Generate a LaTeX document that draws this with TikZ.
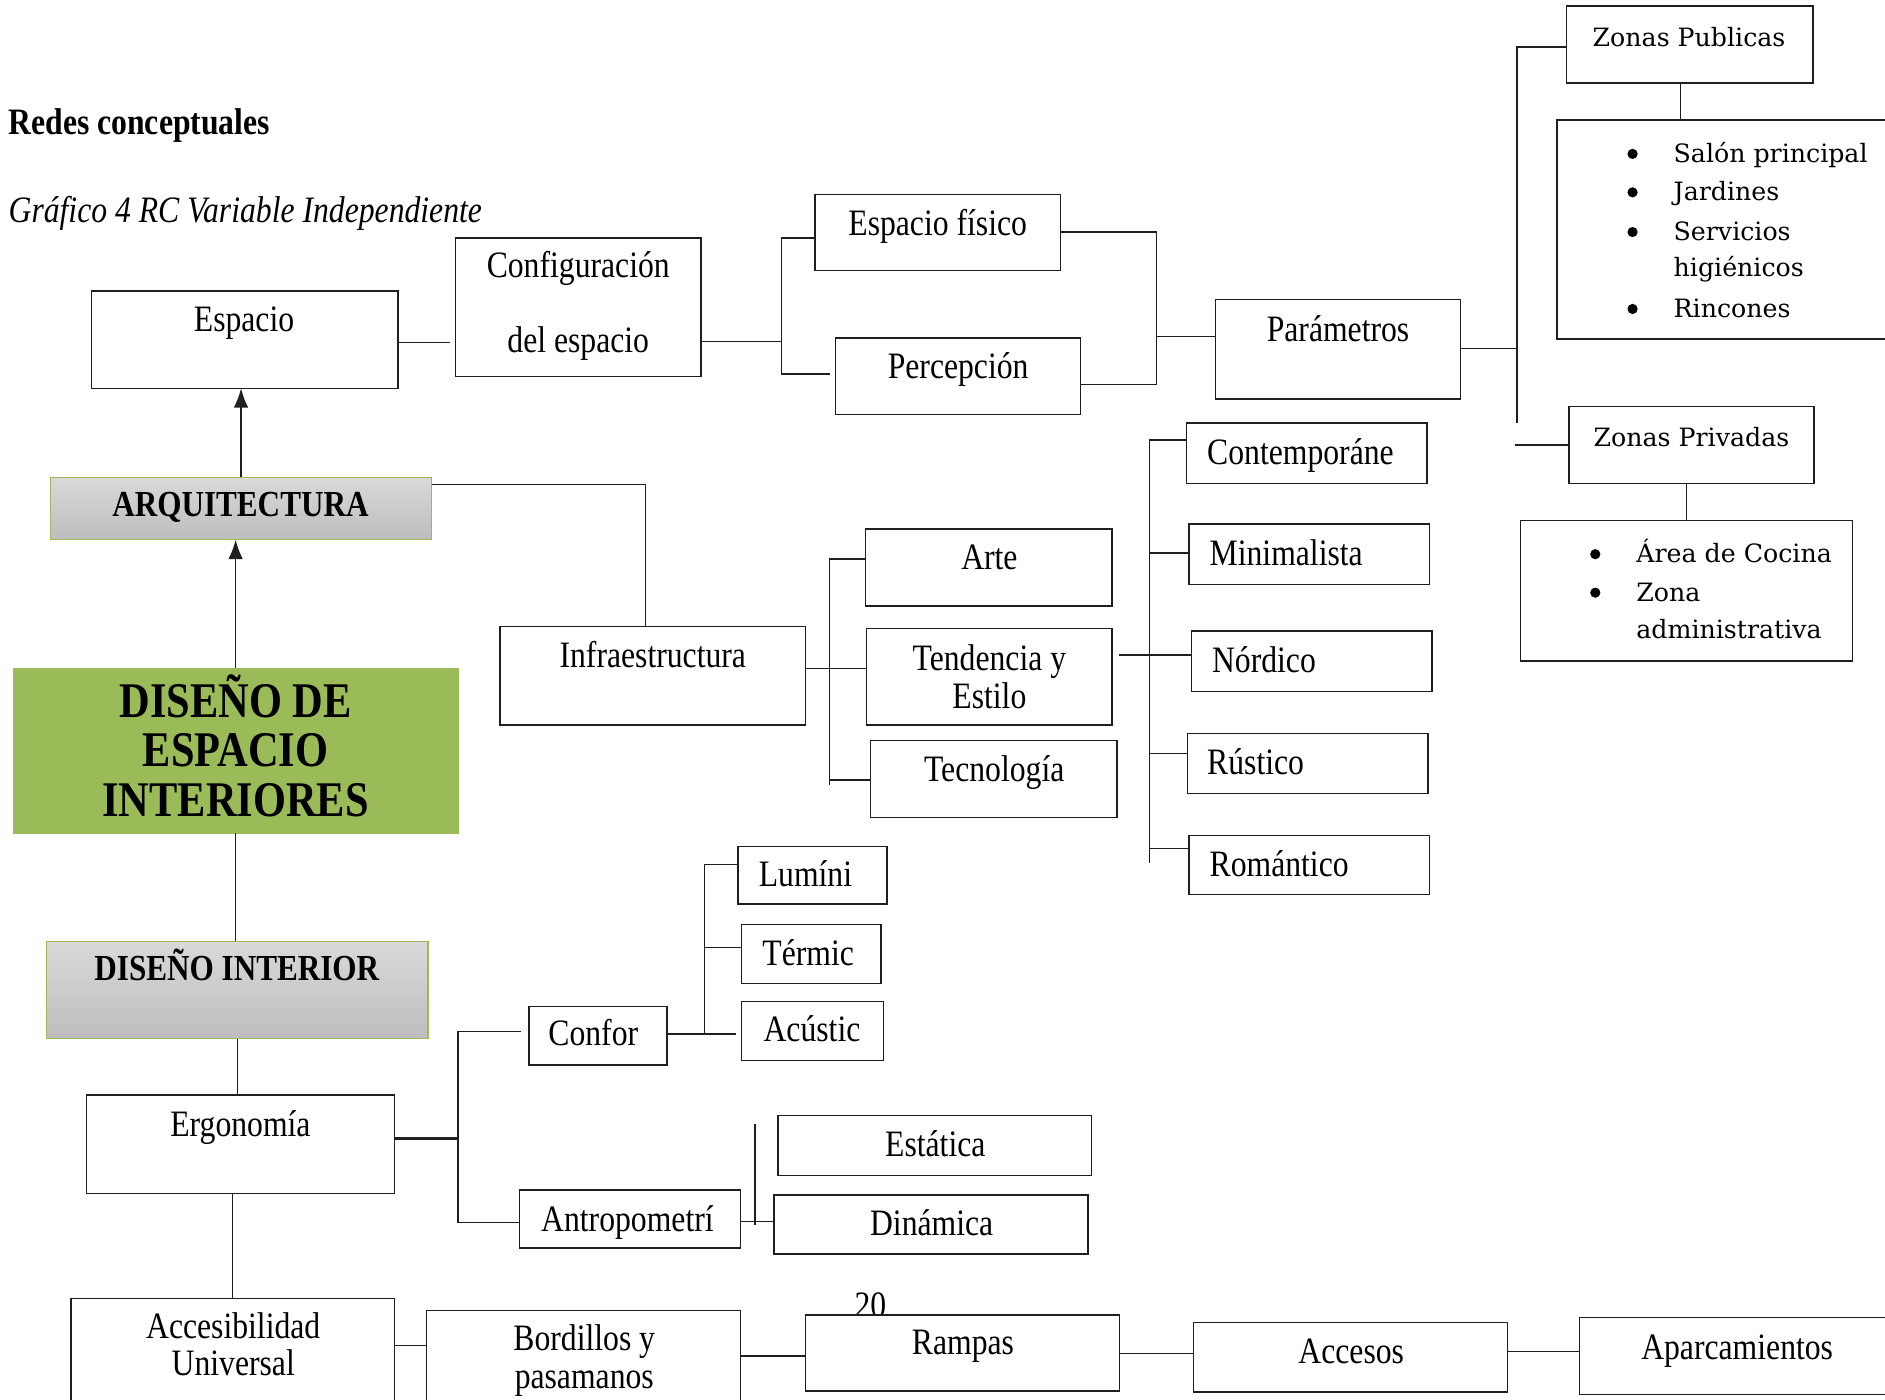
\documentclass[tikz,border=0pt]{standalone}
\usepackage{fontspec}
\setmainfont{Liberation Serif}[FakeStretch=0.85]
\newfontfamily\zfont{DejaVu Serif}
\usetikzlibrary{arrows.meta}

\definecolor{linec}{HTML}{1F1F1F}
\definecolor{leaf}{HTML}{9BBB59}
\definecolor{greyhi}{HTML}{D9D9D9}
\definecolor{greylo}{HTML}{BDBDBD}

% box from corner (x1,y1) to corner (x2,y2), y measured downwards
\newcommand\mkbox[6][box]{%
  \node[#1, minimum width={(#5-#3)*1pt}, minimum height={(#6-#4)*1pt}]
    (#2) at ({(#3+#5)/2},{(#4+#6)/2}) {};}

\tikzset{
  box/.style={draw=linec, line width=1.2pt, fill=white, inner sep=0pt, outer sep=0pt, rectangle},
  graybox/.style={draw=leaf, line width=1pt, top color=greyhi, bottom color=greylo, inner sep=0pt, outer sep=0pt, rectangle},
  greenbox/.style={draw=leaf, fill=leaf, line width=1pt, inner sep=0pt, outer sep=0pt, rectangle},
  wire/.style={draw=linec, line width=1.2pt},
  arrowup/.style={-{Latex[length=16pt,width=12pt]}},
  lbl/.style={inner sep=0pt, anchor=base, font=\fontsize{31}{36}\selectfont},
  lblw/.style={lbl, anchor=base west},
  zlbl/.style={inner sep=0pt, anchor=base, font=\zfont\fontsize{21}{26}\selectfont},
  zlblw/.style={zlbl, anchor=base west},
  bullet/.style={circle, fill=black, inner sep=0pt, minimum size=8.5pt},
  head/.style={inner sep=0pt, anchor=base, font=\fontsize{30.5}{36}\selectfont\bfseries},
  bighead/.style={inner sep=0pt, anchor=base, font=\fontsize{41.5}{44}\selectfont\bfseries},
}

\begin{document}
\begin{tikzpicture}[x=1pt, y=-1pt]
\useasboundingbox (0,0) rectangle (1568,1164);
\clip (0,0) rectangle (1568,1164);
\fill[white] (0,0) rectangle (1568,1164);

% headings
\node[lblw, font=\fontsize{31}{36}\selectfont\bfseries] (title) at (7,112) {Redes conceptuales};
\node[lblw, font=\fontsize{31}{36}\selectfont\itshape] (subtitle) at (7,185) {Gráfico 4 RC Variable Independiente};

% page number, partly covered by the Rampas box
\node[lbl] (pagenum) at (724,1096) {20};

% boxes
\mkbox{esp}{76}{242}{331}{323}
\mkbox{conf}{379}{198}{583}{313}
\mkbox{ef}{678}{162}{882}{225}
\mkbox{perc}{695}{281}{899}{345}
\mkbox{param}{1011}{249}{1215}{332}
\mkbox{zpub}{1303}{5}{1508}{69}
\mkbox{salon}{1295}{100}{1600}{282}
\mkbox{zpriv}{1305}{338}{1509}{402}
\mkbox{area}{1265}{433}{1541}{550}
\mkbox[graybox]{arq}{42}{397}{359}{449}
\mkbox[greenbox]{dei}{11}{556}{381}{693}
\mkbox[graybox]{di}{39}{783}{356}{864}
\mkbox{infra}{416}{521}{670}{603}
\mkbox{arte}{720}{440}{925}{504}
\mkbox{tend}{721}{523}{925}{603}
\mkbox{tecno}{724}{616}{929}{680}
\mkbox{cont}{987}{352}{1187}{402}
\mkbox{mini}{989}{436}{1189}{486}
\mkbox{nord}{991}{525}{1191}{575}
\mkbox{rust}{988}{610}{1188}{660}
\mkbox{rom}{989}{695}{1189}{744}
\mkbox{lum}{614}{704}{738}{752}
\mkbox{term}{617}{769}{733}{818}
\mkbox{acus}{617}{833}{735}{882}
\mkbox{confor}{440}{837}{555}{886}
\mkbox{ergo}{72}{911}{328}{993}
\mkbox{esta}{647}{928}{908}{978}
\mkbox{antro}{432}{990}{616}{1038}
\mkbox{din}{644}{994}{905}{1043}
\mkbox{acc}{59}{1080}{328}{1200}
\mkbox{bord}{355}{1090}{616}{1200}
\mkbox{ramp}{670}{1094}{931}{1157}
\mkbox{acce}{993}{1100}{1254}{1158}
\mkbox{aparc}{1314}{1096}{1600}{1160}

% labels
\node[lbl] (esp-t) at (203,276) {Espacio};
\node[lbl] (conf-t1) at (481,231) {Configuración};
\node[lbl] (conf-t2) at (481,293) {del espacio};
\node[lbl] (ef-t) at (780,196) {Espacio físico};
\node[lbl] (perc-t) at (797,315) {Percepción};
\node[lbl] (param-t) at (1113,284) {Parámetros};

\node[zlbl] (zpub-t) at (1405,39) {Zonas Publicas};
\node[zlbl] (zpriv-t) at (1407,371) {Zonas Privadas};
\foreach \yy/\tt [count=\i] in {135/Salón principal, 167/Jardines, 200/Servicios, 230/higiénicos, 264/Rincones}{
  \node[zlblw] (salon-t\i) at (1392,\yy) {\tt};
}
\foreach \yy [count=\i] in {128,160,193,257}{
  \node[bullet] (salon-b\i) at (1358,\yy) {};
}
\node[zlblw] (area-t1) at (1361,468) {Área de Cocina};
\node[zlblw] (area-t2) at (1361,500) {Zona};
\node[zlblw] (area-t3) at (1361,531) {administrativa};
\node[bullet] (area-b1) at (1327,461) {};
\node[bullet] (area-b2) at (1327,493) {};

\node[head] (arq-t) at (200,430) {ARQUITECTURA};
\node[bighead] (dei-t1) at (196,597) {DISEÑO DE};
\node[bighead] (dei-t2) at (196,638) {ESPACIO};
\node[bighead] (dei-t3) at (196,679) {INTERIORES};
\node[head] (di-t) at (197,816) {DISEÑO INTERIOR};

\node[lbl] (infra-t) at (543,555) {Infraestructura};
\node[lbl] (arte-t) at (823,474) {Arte};
\node[lbl] (tend-t1) at (823,558) {Tendencia y};
\node[lbl] (tend-t2) at (823,589) {Estilo};
\node[lbl] (tecno-t) at (827,650) {Tecnología};

\node[lblw] (cont-t) at (1004,386) {Contemporáne};
\node[lblw] (mini-t) at (1006,470) {Minimalista};
\node[lblw] (nord-t) at (1008,559) {Nórdico};
\node[lblw] (rust-t) at (1004,644) {Rústico};
\node[lblw] (rom-t) at (1006,729) {Romántico};

\node[lblw] (lum-t) at (631,737) {Lumíni};
\node[lblw] (term-t) at (634,803) {Térmic};
\node[lblw] (acus-t) at (635,866) {Acústic};
\node[lblw] (confor-t) at (456,870) {Confor};
\node[lbl] (ergo-t) at (200,945) {Ergonomía};
\node[lbl] (esta-t) at (778,962) {Estática};
\node[lblw] (antro-t) at (450,1024) {Antropometrí};
\node[lbl] (din-t) at (775,1028) {Dinámica};

\node[lbl] (acc-t1) at (194,1113) {Accesibilidad};
\node[lbl] (acc-t2) at (194,1144) {Universal};
\node[lbl] (bord-t1) at (486,1123) {Bordillos y};
\node[lbl] (bord-t2) at (486,1155) {pasamanos};
\node[lbl] (ramp-t) at (801,1127) {Rampas};
\node[lbl] (acce-t) at (1124,1134) {Accesos};
\node[lbl] (aparc-t) at (1445,1131) {Aparcamientos};

% junction points
\coordinate (j1) at (374,285);
\coordinate (j2) at (650,284);
\coordinate (j2t) at (650,198);
\coordinate (j2b) at (650,311);
\coordinate (j2e) at (690,311);
\coordinate (j3t) at (962,193);
\coordinate (j3b) at (962,320);
\coordinate (j3) at (962,280);
\coordinate (j4) at (1262,290);
\coordinate (j4t) at (1262,39);
\coordinate (j4b) at (1262,352);
\coordinate (j4p) at (1260,370);
\coordinate (j5) at (1398,0);
\coordinate (j6) at (537,403);
\coordinate (j7) at (690,556);
\coordinate (j7t) at (690,465);
\coordinate (j7b) at (690,653);
\coordinate (j7c) at (690,649);
\coordinate (k0) at (931,545);
\coordinate (k1) at (956,366);
\coordinate (k2) at (956,460);
\coordinate (k4) at (956,627);
\coordinate (k5) at (956,706);
\coordinate (kend) at (956,718);
\coordinate (e0) at (381,947);
\coordinate (e1) at (381,858);
\coordinate (e1e) at (433,858);
\coordinate (e2) at (381,1017);
\coordinate (f0) at (586,860);
\coordinate (f0e) at (612,860);
\coordinate (f1) at (586,719);
\coordinate (f2) at (586,788);
\coordinate (g0) at (628,1016);
\coordinate (g1) at (628,935);
\coordinate (g2) at (628,1019);
\coordinate (h1) at (326,1119);
\coordinate (h2) at (612,1128);
\coordinate (h3) at (933,1126);
\coordinate (h4) at (1256,1124);

% connectors
\draw[wire] (esp.east |- j1) -- (j1);
\draw[wire] (conf.east |- j2) -- (j2);
\draw[wire] (ef.west |- j2t) -- (j2t) -- (j2b) -- (j2e);
\draw[wire] (ef.east |- j3t) -- (j3t) -- (j3b) -- (perc.east |- j3b);
\draw[wire] (j3) -- (param.west |- j3);
\draw[wire] (param.east |- j4) -- (j4);
\draw[wire] (zpub.west |- j4t) -- (j4t) -- (j4b);
\draw[wire] (j4p) -- (zpriv.west |- j4p);
\draw[wire] (zpub.south -| j5) -- (salon.north -| j5);
\draw[wire] (area.north |- zpriv.south) -- (area.north);

\draw[wire, arrowup] (arq.north) -- (arq.north |- esp.south);
\draw[wire, arrowup] (dei.north) -- (dei.north |- arq.south);
\draw[wire] (dei.south) -- (dei.south |- di.north);
\draw[wire] (di.south) -- (di.south |- ergo.north);
\draw[wire] (acc.north |- ergo.south) -- (acc.north);

\draw[wire] (arq.east |- j6) -- (j6) -- (j6 |- infra.north);
\draw[wire] (infra.east |- j7) -- (tend.west |- j7);
\draw[wire] (arte.west |- j7t) -- (j7t) -- (j7b);
\draw[wire] (j7c) -- (tecno.west |- j7c);

\draw[wire] (k0) -- (nord.west |- k0);
\draw[wire] (cont.west |- k1) -- (k1) -- (kend);
\draw[wire] (k2) -- (mini.west |- k2);
\draw[wire] (k4) -- (rust.west |- k4);
\draw[wire] (k5) -- (rom.west |- k5);

\draw[wire, line width=2.4pt] (ergo.east |- e0) -- (e0);
\draw[wire] (e1e) -- (e1) -- (e2) -- (antro.west |- e2);
\draw[wire] (confor.east |- f0) -- (f0e);
\draw[wire] (lum.west |- f1) -- (f1) -- (f0);
\draw[wire] (f2) -- (term.west |- f2);
\draw[wire] (g1) -- (g2);
\draw[wire] (antro.east |- g0) -- (din.west |- g0);

\draw[wire] (acc.east |- h1) -- (bord.west |- h1);
\draw[wire] (bord.east |- h2) -- (ramp.west |- h2);
\draw[wire] (ramp.east |- h3) -- (acce.west |- h3);
\draw[wire] (acce.east |- h4) -- (aparc.west |- h4);
\end{tikzpicture}
\end{document}
